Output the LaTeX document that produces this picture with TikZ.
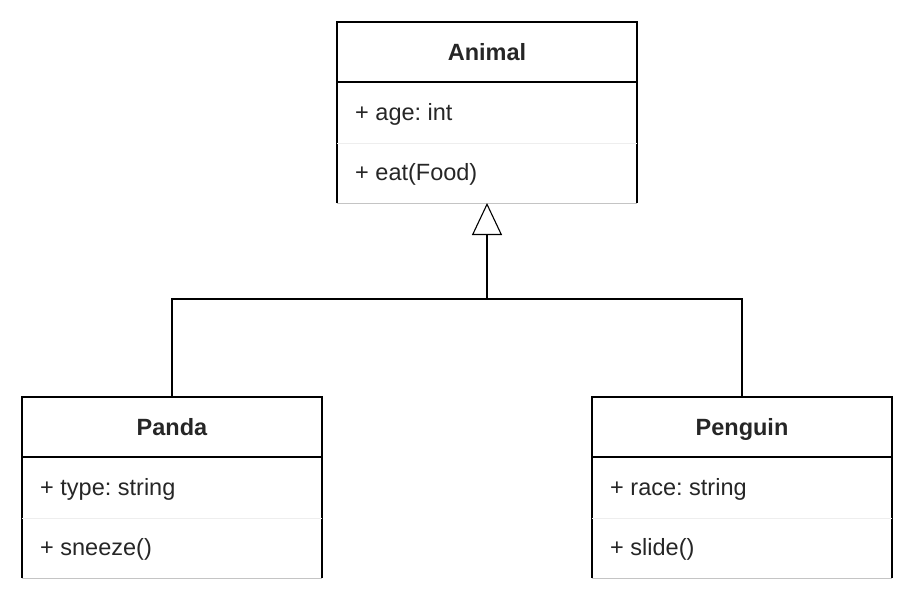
\documentclass[tikz,border=0pt]{standalone}
\usepackage{fontspec}
\setmainfont{Liberation Sans}
\usetikzlibrary{arrows.meta}
\frenchspacing
\definecolor{txt}{HTML}{262626}
\definecolor{sepl}{HTML}{EEEEEE}
\definecolor{botl}{HTML}{C4C4C4}
\tikzset{
  classbox/.style={minimum width=300pt,minimum height=181pt,inner sep=0pt,outer sep=0pt},
  title/.style={font=\bfseries\fontsize{23.5}{28}\selectfont,text=txt,anchor=base,inner sep=0pt},
  member/.style={font=\fontsize{23.5}{28}\selectfont,text=txt,anchor=base west,inner sep=0pt},
  edge/.style={line width=1.1pt,black},
  lightsep/.style={line width=1pt,sepl},
  bottomline/.style={line width=1pt,botl},
  inherit/.style={line width=1.1pt,-{Triangle[open,length=32pt,width=30pt,line width=1.1pt]}}
}
\newcommand{\classdraw}[1]{%
  \draw[edge] (#1.south west) -- (#1.north west) -- (#1.north east) -- (#1.south east);
  \draw[edge] ([yshift=-60pt]#1.north west) -- ([yshift=-60pt]#1.north east);
  \draw[lightsep] ([yshift=-121pt]#1.north west) -- ([yshift=-121pt]#1.north east);
  \draw[bottomline] (#1.south west) -- (#1.south east);
}
\begin{document}
\begin{tikzpicture}[x=1pt,y=-1pt]
\useasboundingbox (0,0) rectangle (915,600);
% boxes
\node[classbox] (animal) at (487,112.5) {};
\node[classbox] (panda) at (172,487.5) {};
\node[classbox] (penguin) at (742,487.5) {};
\classdraw{animal}
\classdraw{panda}
\classdraw{penguin}
% texts
\node[title] (animalT) at (487,60) {Animal};
\node[member] (animalA) at (355,120) {+ age: int};
\node[member] (animalM) at (355,180) {+ eat(Food)};
\node[title] (pandaT) at (172,435) {Panda};
\node[member] (pandaA) at (40,495) {+ type: string};
\node[member] (pandaM) at (40,555) {+ sneeze()};
\node[title] (penguinT) at (742,435) {Penguin};
\node[member] (penguinA) at (610,495) {+ race: string};
\node[member] (penguinM) at (610,555) {+ slide()};
% inheritance
\coordinate (jn) at (487,299);
\draw[edge] (panda.north) |- (jn);
\draw[edge] (penguin.north) |- (jn);
\draw[inherit] (jn) -- (animal.south);
\end{tikzpicture}
\end{document}
